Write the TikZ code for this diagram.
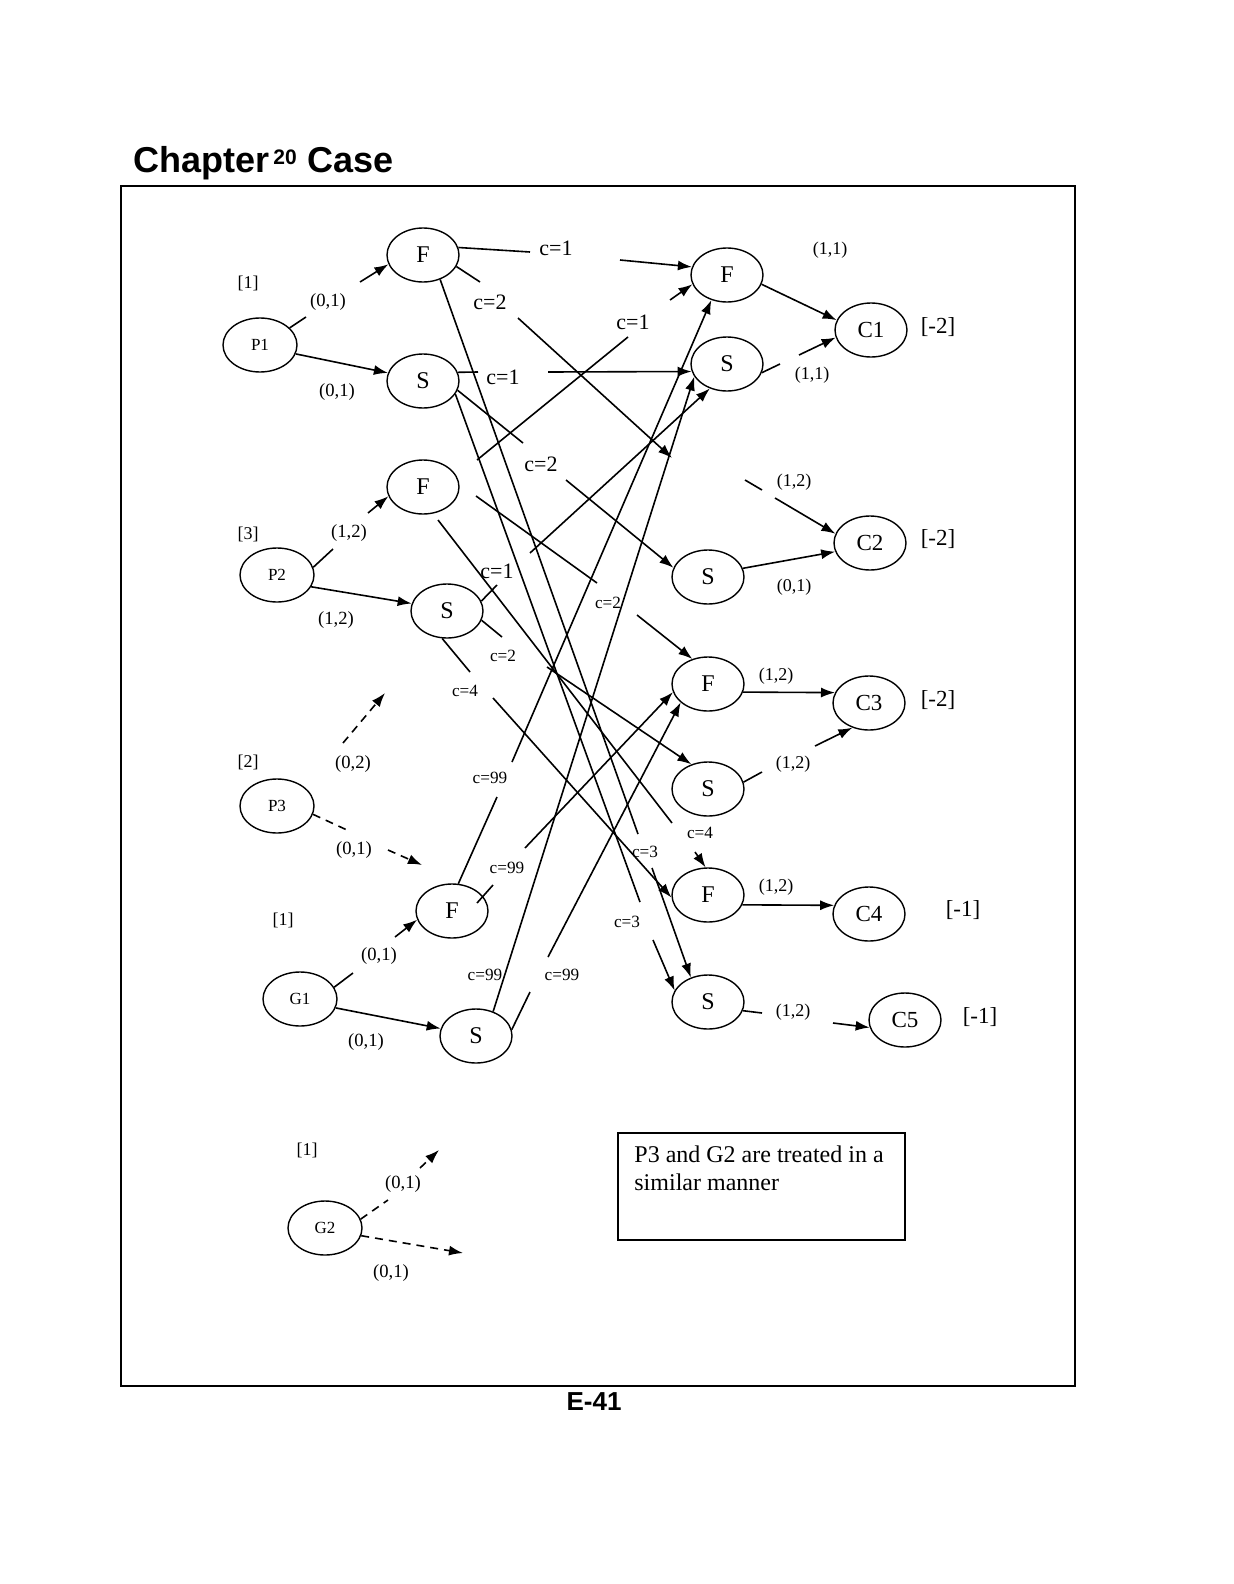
\documentclass[tikz,border=0pt]{standalone}
\usepackage{fontspec}
\setmainfont{Liberation Serif}
\newfontfamily\arialf{Liberation Sans}
\usetikzlibrary{shapes.geometric,arrows.meta}
\begin{document}
\begin{tikzpicture}[x=0.5pt,y=-0.5pt,
  ell/.style={draw,ellipse,line width=0.7pt,minimum width=36pt,minimum height=27pt,inner sep=0pt,font=\fontsize{12}{14}\selectfont},
  pell/.style={ell,minimum width=37pt,font=\fontsize{8.5}{10}\selectfont},
  cell/.style={ell,font=\fontsize{11.5}{13}\selectfont},
  arr/.style={line width=0.8pt,-{Latex[length=7pt,width=5pt]}},
  ln/.style={line width=0.8pt},
  dsh/.style={dash pattern=on 4pt off 3pt},
  lbl/.style={inner sep=0pt,font=\fontsize{9.3}{11}\selectfont},
  rlbl/.style={inner sep=0pt,font=\fontsize{9}{11}\selectfont},
  bigc/.style={inner sep=0pt,font=\fontsize{11}{13}\selectfont},
  smallc/.style={inner sep=0pt,font=\fontsize{8.6}{10}\selectfont},
  brk/.style={inner sep=0pt,font=\fontsize{11.5}{13}\selectfont},
  sbrk/.style={inner sep=0pt,font=\fontsize{9}{11}\selectfont}
]
\useasboundingbox (0,0) rectangle (1233,1584);
\fill[white] (0,0) rectangle (1233,1584);

% title, frame, page number
\node[anchor=base west,inner sep=0pt,font=\arialf\bfseries\fontsize{18}{20}\selectfont] (tchap) at (133,172) {Chapter};
\node[anchor=base west,inner sep=0pt,font=\arialf\bfseries\fontsize{10.5}{12}\selectfont] (tnum) at (273,164) {20};
\node[anchor=base west,inner sep=0pt,font=\arialf\bfseries\fontsize{18}{20}\selectfont] (tcase) at (307,172) {Case};
\node[draw,line width=0.8pt,minimum width=477pt,minimum height=600pt,inner sep=0pt] (frame) at (598,786) {};
\node[inner sep=0pt,font=\arialf\bfseries\fontsize{13}{15}\selectfont] (pagenum) at (594,1402) {E-41};

% plant / warehouse nodes
\node[pell] (P1) at (260,345) {P1};
\node[pell] (P2) at (277,575) {P2};
\node[pell] (P3) at (277,806) {P3};
\node[pell] (G1) at (300,999) {G1};
\node[pell] (G2) at (325,1228) {G2};

\node[ell] (F1) at (423,255) {F};
\node[ell] (S1) at (423,381) {S};
\node[ell] (F2) at (423,487) {F};
\node[ell] (S2) at (447,611) {S};
\node[ell] (F3) at (452,911) {F};
\node[ell] (S3) at (476,1036) {S};

\node[ell] (FR1) at (727,275) {F};
\node[ell] (SR1) at (727,364) {S};
\node[ell] (SR2) at (708,577) {S};
\node[ell] (FR3) at (708,684) {F};
\node[ell] (SR3) at (708,789) {S};
\node[ell] (FR4) at (708,895) {F};
\node[ell] (SR4) at (708,1002) {S};

\node[cell] (C1) at (871,330) {C1};
\node[cell] (C2) at (870,543) {C2};
\node[cell] (C3) at (869,703) {C3};
\node[cell] (C4) at (869,914) {C4};
\node[cell] (C5) at (905,1020) {C5};

% bracket values
\node[brk] (b1) at (938,327) {[-2]};
\node[brk] (b2) at (938,539) {[-2]};
\node[brk] (b3) at (938,700) {[-2]};
\node[brk] (b4) at (963,910) {[-1]};
\node[brk] (b5) at (980,1017) {[-1]};
\node[sbrk] (a1) at (248,283) {[1]};
\node[sbrk] (a2) at (248,534) {[3]};
\node[sbrk] (a3) at (248,762) {[2]};
\node[sbrk] (a4) at (283,920) {[1]};
\node[sbrk] (a5) at (307,1150) {[1]};

% left labels
\node[lbl] (q1) at (328,302) {(0,1)};
\node[lbl] (q2) at (337,392) {(0,1)};
\node[lbl] (q3) at (349,533) {(1,2)};
\node[lbl] (q4) at (336,620) {(1,2)};
\node[lbl] (q5) at (353,764) {(0,2)};
\node[lbl] (q6) at (354,850) {(0,1)};
\node[lbl] (q7) at (379,956) {(0,1)};
\node[lbl] (q8) at (366,1042) {(0,1)};
\node[lbl] (q9) at (403,1184) {(0,1)};
\node[lbl] (q10) at (391,1273) {(0,1)};

% right labels
\node[rlbl] (r1) at (830,250) {(1,1)};
\node[rlbl] (r2) at (812,375) {(1,1)};
\node[rlbl] (r3) at (794,482) {(1,2)};
\node[rlbl] (r4) at (794,587) {(0,1)};
\node[rlbl] (r5) at (776,676) {(1,2)};
\node[rlbl] (r6) at (793,764) {(1,2)};
\node[rlbl] (r7) at (776,887) {(1,2)};
\node[rlbl] (r8) at (793,1012) {(1,2)};

% cost labels
\node[bigc] (c1) at (556,248) {c=1};
\node[bigc] (c2) at (490,302) {c=2};
\node[bigc] (c3) at (633,322) {c=1};
\node[bigc] (c4) at (503,377) {c=1};
\node[bigc] (c5) at (541,464) {c=2};
\node[bigc] (c6) at (497,571) {c=1};
\node[smallc] (c7) at (608,603) {c=2};
\node[smallc] (c8) at (503,656) {c=2};
\node[smallc] (c9) at (465,691) {c=4};
\node[smallc] (c10) at (490,778) {c=99};
\node[smallc] (c11) at (700,833) {c=4};
\node[smallc] (c12) at (645,852) {c=3};
\node[smallc] (c13) at (507,868) {c=99};
\node[smallc] (c14) at (627,922) {c=3};
\node[smallc] (c15) at (485,975) {c=99};
\node[smallc] (c16) at (562,975) {c=99};

% note box
\node[draw,line width=0.8pt,minimum width=143.5pt,minimum height=53.5pt,inner sep=0pt] (note) at (761.5,1186.5) {};
\node[anchor=base west,inner sep=0pt,font=\fontsize{12}{14}\selectfont] (nt1) at (634,1162) {P3 and G2 are treated in a};
\node[anchor=base west,inner sep=0pt,font=\fontsize{12}{14}\selectfont] (nt2) at (634,1190) {similar manner};

% ---------- plant side connectors ----------
\coordinate (p1a) at (306,317); \coordinate (p1b) at (360,282);
\draw[ln] (P1.30) -- (p1a); \draw[arr] (p1b) -- (F1.195);
\draw[arr] (P1.346) -- (S1.167);
\coordinate (p2a) at (333,549); \coordinate (p2b) at (368,513);
\draw[ln] (P2.12) -- (p2a); \draw[arr] (p2b) -- (F2.195);
\draw[arr] (P2.341) -- (S2.168);
\coordinate (p3a) at (343,743); \coordinate (p3b) at (385,693);
\draw[arr,dsh] (p3a) -- (p3b);
\coordinate (p3c) at (347,830); \coordinate (p3d) at (388,850); \coordinate (p3e) at (422,865);
\draw[ln,dsh] (P3.347) -- (p3c); \draw[arr,dsh] (p3d) -- (p3e);
\coordinate (g1a) at (353,973); \coordinate (g1b) at (395,937);
\draw[ln] (G1.19) -- (g1a); \draw[arr] (g1b) -- (F3.194);
\draw[arr] (G1.346) -- (S3.168);
\coordinate (g2a) at (388,1200); \coordinate (g2b) at (420,1168); \coordinate (g2c) at (439,1150);
\draw[ln,dsh] (G2.14) -- (g2a); \draw[arr,dsh] (g2b) -- (g2c);
\coordinate (g2d) at (463,1253);
\draw[arr,dsh] (G2.348) -- (g2d);

% ---------- middle connectors ----------
\coordinate (m1a) at (530,252); \coordinate (m1b) at (620,260);
\draw[ln] (F1.12) -- (m1a); \draw[arr] (m1b) -- (FR1.167);
\coordinate (m2a) at (480,282); \coordinate (m2b) at (518,318); \coordinate (m2c) at (672,458);
\draw[ln] (F1.341) -- (m2a); \draw[arr] (m2b) -- (m2c);
\coordinate (m3a) at (638,834); \coordinate (m3b) at (652,868);
\draw[ln] (F1.305) -- (m3a); \draw[arr] (m3b) -- (SR4.125);
\coordinate (m4a) at (478,372); \coordinate (m4b) at (548,372);
\draw[ln] (S1.14) -- (m4a); \draw[arr] (m4b) -- (SR1.192);
\coordinate (m5a) at (523,443); \coordinate (m5b) at (566,480);
\draw[ln] (S1.345) -- (m5a); \draw[arr] (m5b) -- (SR2.165);
\coordinate (m6a) at (640,902); \coordinate (m6b) at (653,940);
\draw[ln] (S1.338) -- (m6a); \draw[arr] (m6b) -- (SR4.161);
\coordinate (m7s) at (477,460); \coordinate (m7a) at (628,337); \coordinate (m7b) at (670,300);
\draw[ln] (m7s) -- (m7a); \draw[arr] (m7b) -- (FR1.195);
\coordinate (m8s) at (476,496); \coordinate (m8a) at (597,583); \coordinate (m8b) at (637,615);
\draw[ln] (m8s) -- (m8a); \draw[arr] (m8b) -- (FR3.122);
\coordinate (m9s) at (438,520); \coordinate (m9a) at (672,823); \coordinate (m9b) at (695,852);
\draw[ln] (m9s) -- (m9a); \draw[arr] (m9b) -- (FR4.95);
\coordinate (m10a) at (497,585); \coordinate (m10b) at (530,553);
\draw[ln] (S2.16) -- (m10a); \draw[arr] (m10b) -- (SR1.235);
\coordinate (m11a) at (502,637); \coordinate (m11b) at (547,667);
\draw[ln] (S2.345) -- (m11a); \draw[arr] (m11b) -- (SR3.124);
\coordinate (m12a) at (470,672); \coordinate (m12b) at (493,698);
\draw[ln] (S2.260) -- (m12a); \draw[arr] (m12b) -- (FR4.184);
\coordinate (m13a) at (497,797); \coordinate (m13b) at (512,762);
\draw[ln] (F3.77) -- (m13a); \draw[arr] (m13b) -- (FR1.238);
\coordinate (m14s) at (477,903); \coordinate (m14a) at (493,885); \coordinate (m14b) at (525,848);
\draw[ln] (m14s) -- (m14a); \draw[arr] (m14b) -- (FR3.193);
\draw[arr] (S3.55) -- (SR1.201);
\coordinate (m16a) at (530,992); \coordinate (m16b) at (548,957);
\draw[ln] (S3.10) -- (m16a); \draw[arr] (m16b) -- (FR3.214);

% ---------- customer side connectors ----------
\draw[arr] (FR1.345) -- (C1.164);
\coordinate (k2a) at (780,364); \coordinate (k2b) at (799,355);
\draw[ln] (SR1.346) -- (k2a); \draw[arr] (k2b) -- (C1.192);
\coordinate (k3a) at (745,480); \coordinate (k3b) at (762,490); \coordinate (k3c) at (775,498);
\draw[ln] (k3a) -- (k3b); \draw[arr] (k3c) -- (C2.165);
\draw[arr] (SR2.14) -- (C2.194);
\draw[arr] (FR3.347) -- (C3.163);
\coordinate (k6a) at (762,772); \coordinate (k6b) at (815,746);
\draw[ln] (SR3.11) -- (k6a); \draw[arr] (k6b) -- (C3.236);
\draw[arr] (FR4.344) -- (C4.166);
\coordinate (k8a) at (762,1013); \coordinate (k8b) at (833,1023);
\draw[ln] (SR4.346) -- (k8a); \draw[arr] (k8b) -- (C5.192);
\end{tikzpicture}
\end{document}
